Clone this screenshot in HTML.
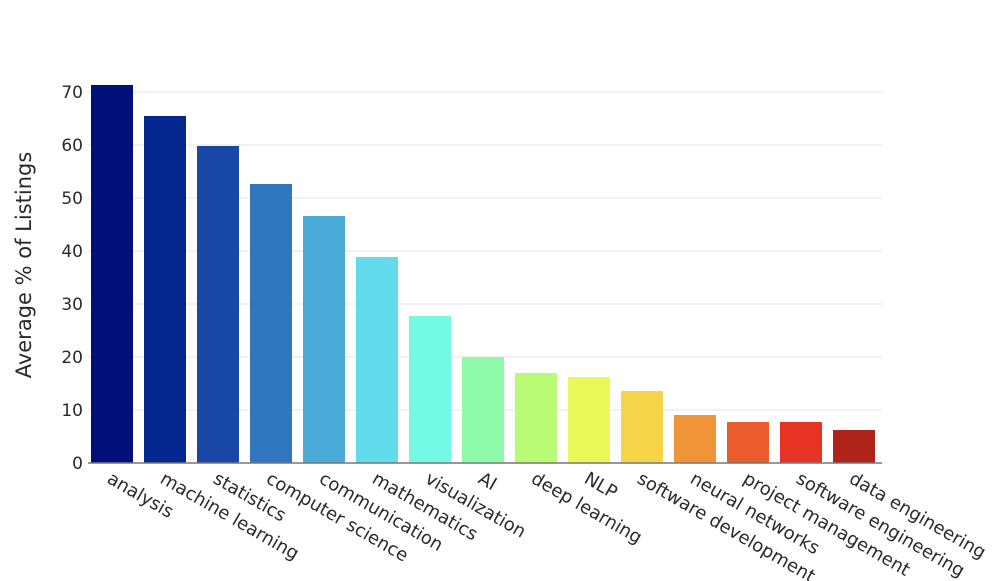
<!DOCTYPE html>
<html><head><style>body{margin:0;background:#fff}svg{display:block}</style></head><body>
<svg width="1000" height="581" xmlns="http://www.w3.org/2000/svg" font-family="'DejaVu Sans', 'Liberation Sans', sans-serif">
<g stroke="#e5e5e5" stroke-width="1">
<line x1="88" x2="882" y1="410" y2="410"/><line x1="88" x2="882" y1="357" y2="357"/>
<line x1="88" x2="882" y1="304" y2="304"/><line x1="88" x2="882" y1="251" y2="251"/>
<line x1="88" x2="882" y1="198" y2="198"/><line x1="88" x2="882" y1="145" y2="145"/>
<line x1="88" x2="882" y1="92" y2="92"/>
</g>
<g font-size="17" fill="#2a2a2a" text-anchor="end">
<text x="83" y="469">0</text><text x="83" y="416">10</text><text x="83" y="363">20</text>
<text x="83" y="310">30</text><text x="83" y="257">40</text><text x="83" y="204">50</text>
<text x="83" y="151">60</text><text x="83" y="98">70</text>
</g>
<text transform="translate(31,265) rotate(-90)" text-anchor="middle" font-size="21" fill="#2a2a2a">Average % of Listings</text>
<g>
<rect x="91" y="85" width="42" height="378" fill="#000f7a"/>
<rect x="144" y="116" width="42" height="347" fill="#03268f"/>
<rect x="197" y="146" width="42" height="317" fill="#1847a6"/>
<rect x="250" y="184" width="42" height="279" fill="#3076bf"/>
<rect x="303" y="216" width="42" height="247" fill="#4aaad8"/>
<rect x="356" y="257" width="42" height="206" fill="#62dbed"/>
<rect x="409" y="316" width="42" height="147" fill="#74f9e4"/>
<rect x="462" y="357" width="42" height="106" fill="#8ef9a8"/>
<rect x="515" y="373" width="42" height="90" fill="#bafb75"/>
<rect x="568" y="377" width="42" height="86" fill="#ebf958"/>
<rect x="621" y="391" width="42" height="72" fill="#f6d44a"/>
<rect x="674" y="415" width="42" height="48" fill="#ef9438"/>
<rect x="727" y="422" width="42" height="41" fill="#ea5c2c"/>
<rect x="780" y="422" width="42" height="41" fill="#e63324"/>
<rect x="833" y="430" width="42" height="33" fill="#b0231a"/>
</g>
<line x1="88" x2="882" y1="463" y2="463" stroke="#777" stroke-width="1.5"/>
<g font-size="18" fill="#2a2a2a">
<text transform="translate(106,482) rotate(30)">analysis</text>
<text transform="translate(159,482) rotate(30)">machine learning</text>
<text transform="translate(212,482) rotate(30)">statistics</text>
<text transform="translate(265,482) rotate(30)">computer science</text>
<text transform="translate(318,482) rotate(30)">communication</text>
<text transform="translate(371,482) rotate(30)">mathematics</text>
<text transform="translate(424,482) rotate(30)">visualization</text>
<text transform="translate(477,482) rotate(30)">AI</text>
<text transform="translate(530,482) rotate(30)">deep learning</text>
<text transform="translate(583,482) rotate(30)">NLP</text>
<text transform="translate(636,482) rotate(30)">software development</text>
<text transform="translate(689,482) rotate(30)">neural networks</text>
<text transform="translate(742,482) rotate(30)">project management</text>
<text transform="translate(795,482) rotate(30)">software engineering</text>
<text transform="translate(848,482) rotate(30)">data engineering</text>
</g>
</svg>
</body></html>
